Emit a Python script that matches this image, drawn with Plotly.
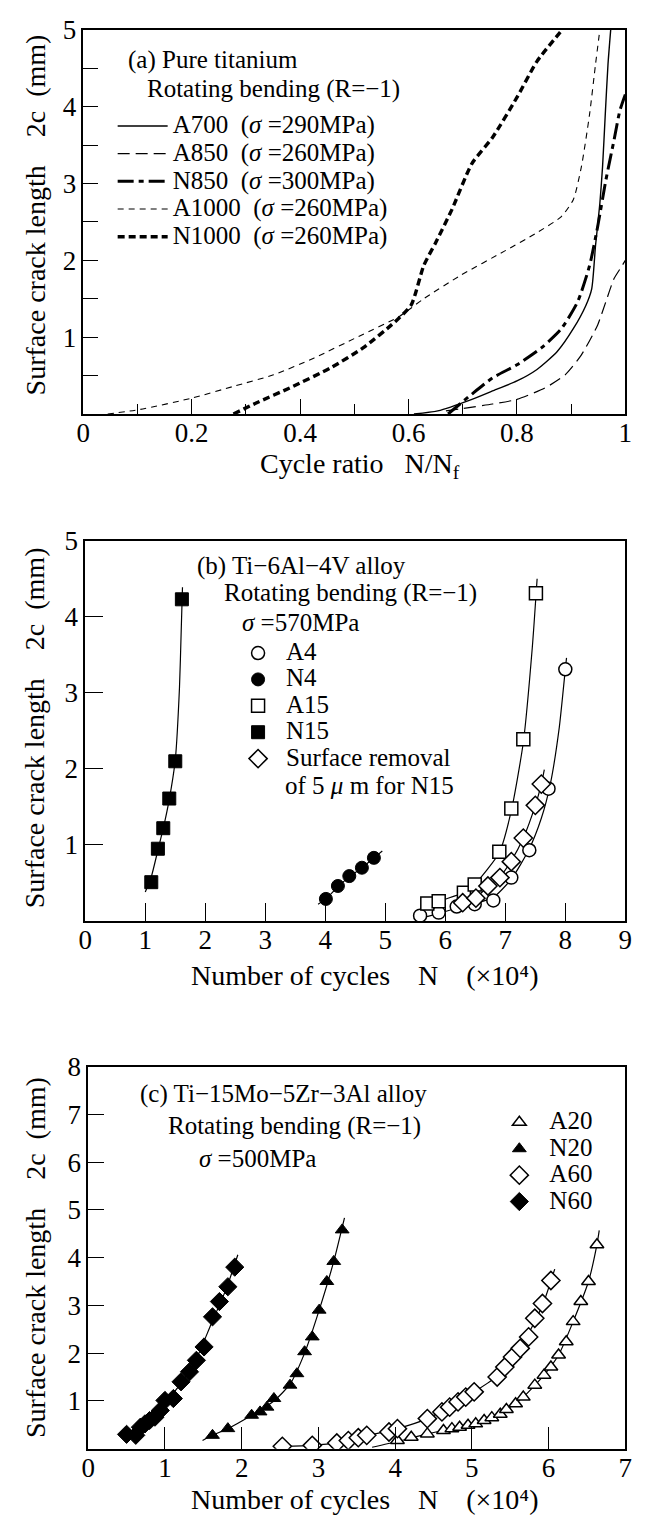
import plotly.graph_objects as go

FONT = "Liberation Serif"
W, H = 647, 1518

# ---------------- Panel (a): Pure titanium ----------------
a_A700_x = [0.61, 0.654, 0.717, 0.762, 0.80, 0.837, 0.874, 0.904, 0.927, 0.938, 0.945, 0.953, 0.958, 0.963, 0.968, 0.973]
a_A700_y = [0.0, 0.04, 0.19, 0.32, 0.43, 0.58, 0.81, 1.11, 1.41, 1.63, 2.19, 2.74, 3.22, 3.90, 4.55, 5.0]
a_A850_x = [0.669, 0.755, 0.80, 0.852, 0.889, 0.919, 0.949, 0.964, 0.979, 0.994, 1.0]
a_A850_y = [0.04, 0.13, 0.19, 0.34, 0.51, 0.77, 1.16, 1.46, 1.76, 1.93, 2.0]
a_N850_x = [0.673, 0.717, 0.755, 0.80, 0.845, 0.882, 0.912, 0.934, 0.949, 0.964, 0.979, 0.99, 1.0]
a_N850_y = [0.0, 0.26, 0.47, 0.64, 0.86, 1.11, 1.46, 1.93, 2.44, 3.04, 3.56, 3.95, 4.16]
a_A1000_x = [0.045, 0.105, 0.202, 0.277, 0.351, 0.426, 0.508, 0.583, 0.628, 0.695, 0.777, 0.837, 0.882, 0.904, 0.919, 0.934, 0.945, 0.953]
a_A1000_y = [0.0, 0.06, 0.21, 0.36, 0.51, 0.73, 1.01, 1.27, 1.50, 1.80, 2.12, 2.36, 2.57, 2.79, 3.22, 3.90, 4.55, 5.0]
a_N1000_x = [0.277, 0.321, 0.381, 0.456, 0.516, 0.575, 0.605, 0.628, 0.65, 0.68, 0.717, 0.755, 0.80, 0.837, 0.880]
a_N1000_y = [0.0, 0.15, 0.34, 0.60, 0.86, 1.20, 1.42, 1.93, 2.23, 2.66, 3.26, 3.60, 4.12, 4.59, 4.97]
a_names = ["A700  (<i>σ</i> =290MPa)", "A850  (<i>σ</i> =260MPa)", "N850  (<i>σ</i> =300MPa)",
           "A1000  (<i>σ</i> =260MPa)", "N1000  (<i>σ</i> =260MPa)"]
a_xticks = [0, 0.2, 0.4, 0.6, 0.8, 1]
a_xticktext = ["0", "0.2", "0.4", "0.6", "0.8", "1"]
a_yticks = [1, 2, 3, 4, 5]

# ---------------- Panel (b): Ti-6Al-4V ----------------
b_A4_x = [5.58, 5.89, 6.19, 6.49, 6.80, 7.10, 7.40, 7.72, 8.00]
b_A4_y = [0.07, 0.11, 0.19, 0.22, 0.27, 0.57, 0.93, 1.74, 3.31]
b_N4_x = [4.01, 4.21, 4.40, 4.61, 4.81]
b_N4_y = [0.29, 0.46, 0.59, 0.70, 0.83]
b_A15_x = [5.70, 5.89, 6.31, 6.49, 6.90, 7.10, 7.30, 7.51]
b_A15_y = [0.23, 0.26, 0.37, 0.48, 0.91, 1.48, 2.39, 4.31]
b_N15_x = [1.10, 1.21, 1.30, 1.40, 1.50, 1.61]
b_N15_y = [0.51, 0.95, 1.22, 1.61, 2.10, 4.23]
b_SR_x = [6.29, 6.51, 6.71, 6.91, 7.10, 7.30, 7.50, 7.60]
b_SR_y = [0.24, 0.30, 0.46, 0.57, 0.78, 1.09, 1.52, 1.80]
# fitted curves
b_A4_fit_x = [5.50, 5.80, 6.20, 6.50, 6.80, 7.10, 7.40, 7.60, 7.75, 7.90, 8.00, 8.02]
b_A4_fit_y = [0.02, 0.08, 0.17, 0.23, 0.31, 0.55, 0.95, 1.35, 1.80, 2.55, 3.31, 3.46]
b_N4_fit_x = [3.88, 4.01, 4.21, 4.40, 4.61, 4.81, 4.95]
b_N4_fit_y = [0.22, 0.29, 0.45, 0.58, 0.70, 0.83, 0.92]
b_A15_fit_x = [5.47, 5.70, 5.90, 6.30, 6.50, 6.90, 7.10, 7.30, 7.45, 7.53]
b_A15_fit_y = [0.07, 0.18, 0.26, 0.37, 0.49, 0.90, 1.45, 2.35, 3.60, 4.50]
b_N15_fit_x = [1.00, 1.10, 1.21, 1.30, 1.40, 1.50, 1.57, 1.60, 1.62]
b_N15_fit_y = [0.38, 0.58, 0.93, 1.22, 1.60, 2.12, 3.07, 3.85, 4.39]
b_SR_fit_x = [6.10, 6.29, 6.51, 6.71, 6.91, 7.10, 7.30, 7.50, 7.60, 7.65]
b_SR_fit_y = [0.17, 0.24, 0.31, 0.45, 0.58, 0.79, 1.09, 1.52, 1.80, 1.99]
b_names = ["A4", "N4", "A15", "N15", "Surface removal"]
b_name_cont = "of 5 <i>μ</i> m for N15"
b_xticks = [0, 1, 2, 3, 4, 5, 6, 7, 8, 9]
b_yticks = [1, 2, 3, 4, 5]

# ---------------- Panel (c): Ti-15Mo-5Zr-3Al ----------------
c_A20_x = [4.03, 4.21, 4.42, 4.63, 4.74, 4.84, 4.95, 5.05, 5.16, 5.26, 5.37, 5.45, 5.57, 5.67,
           5.82, 5.94, 6.03, 6.13, 6.23, 6.32, 6.42, 6.52, 6.63]
c_A20_y = [0.17, 0.24, 0.31, 0.38, 0.42, 0.45, 0.49, 0.52, 0.59, 0.65, 0.72, 0.82, 0.94, 1.08,
           1.33, 1.54, 1.71, 1.96, 2.24, 2.66, 3.08, 3.50, 4.27]
c_N20_x = [1.62, 1.82, 2.13, 2.24, 2.33, 2.42, 2.63, 2.72, 2.82, 2.92, 3.01, 3.11, 3.20, 3.31]
c_N20_y = [0.28, 0.42, 0.70, 0.77, 0.87, 1.05, 1.33, 1.57, 2.03, 2.34, 2.90, 3.50, 3.92, 4.58]
c_A60_x = [2.53, 2.92, 3.24, 3.39, 3.52, 3.63, 3.92, 4.03, 4.42, 4.61, 4.71, 4.82, 4.92, 5.03,
           5.33, 5.43, 5.53, 5.63, 5.74, 5.82, 5.92, 6.03]
c_A60_y = [0.05, 0.07, 0.12, 0.17, 0.23, 0.28, 0.35, 0.42, 0.63, 0.77, 0.87, 0.98, 1.08, 1.19,
           1.50, 1.71, 1.92, 2.10, 2.34, 2.73, 3.04, 3.52]
c_N60_x = [0.50, 0.62, 0.68, 0.74, 0.80, 0.87, 0.94, 1.00, 1.11, 1.21, 1.32, 1.41, 1.51, 1.62,
           1.71, 1.82, 1.91]
c_N60_y = [0.30, 0.28, 0.45, 0.52, 0.59, 0.66, 0.80, 1.01, 1.05, 1.40, 1.61, 1.85, 2.13, 2.76,
           3.08, 3.39, 3.80]
c_A20_fit_x = [3.70, 4.03, 4.42, 4.84, 5.16, 5.45, 5.67, 5.94, 6.13, 6.32, 6.52, 6.63, 6.66]
c_A20_fit_y = [0.03, 0.15, 0.31, 0.45, 0.59, 0.82, 1.08, 1.54, 1.96, 2.66, 3.50, 4.27, 4.57]
c_N20_fit_x = [1.49, 1.62, 1.82, 2.13, 2.42, 2.63, 2.82, 3.01, 3.20, 3.34]
c_N20_fit_y = [0.17, 0.28, 0.42, 0.70, 1.00, 1.35, 2.00, 2.90, 3.92, 4.83]
c_A60_fit_x = [2.53, 2.92, 3.24, 3.63, 4.03, 4.42, 4.82, 5.03, 5.33, 5.63, 5.92, 6.08]
c_A60_fit_y = [0.05, 0.07, 0.12, 0.27, 0.42, 0.63, 0.98, 1.19, 1.52, 2.10, 3.00, 3.76]
c_N60_fit_x = [0.48, 0.62, 0.80, 1.00, 1.20, 1.40, 1.60, 1.80, 1.95]
c_N60_fit_y = [0.28, 0.36, 0.60, 0.95, 1.35, 1.85, 2.60, 3.35, 4.06]
c_names = ["A20", "N20", "A60", "N60"]
c_xticks = [0, 1, 2, 3, 4, 5, 6, 7]
c_yticks = [1, 2, 3, 4, 5, 6, 7, 8]


def px(x):
    return x / W


def py(y):
    return 1 - y / H


def leg(name):
    return '<span style="font-size:25px">' + name + '</span>'


fig = go.Figure()

# Panel (a) lines
a_styles = [
    dict(width=1.4, dash="solid"),
    dict(width=1.2, dash="12px,6px"),
    dict(width=3.0, dash="16px,5px,5px,5px"),
    dict(width=1.1, dash="6px,5px"),
    dict(width=3.4, dash="7px,4px"),
]
a_series = [(a_A700_x, a_A700_y), (a_A850_x, a_A850_y), (a_N850_x, a_N850_y),
            (a_A1000_x, a_A1000_y), (a_N1000_x, a_N1000_y)]
for (xs, ys), nm, st in zip(a_series, a_names, a_styles):
    fig.add_trace(go.Scatter(x=xs, y=ys, mode="lines", name=leg(nm),
                             line=dict(color="black", shape="spline", smoothing=0.6, **st),
                             xaxis="x", yaxis="y", legend="legend"))

OPEN = dict(color="white", line=dict(color="black", width=1.5))
FILL = dict(color="black", line=dict(color="black", width=1))

# Panel (b) fitted lines
for fx, fy in [(b_A4_fit_x, b_A4_fit_y), (b_N4_fit_x, b_N4_fit_y), (b_A15_fit_x, b_A15_fit_y),
               (b_N15_fit_x, b_N15_fit_y), (b_SR_fit_x, b_SR_fit_y)]:
    fig.add_trace(go.Scatter(x=fx, y=fy, mode="lines", showlegend=False,
                             line=dict(color="black", width=1.2, shape="spline", smoothing=0.6),
                             xaxis="x2", yaxis="y2"))
b_series = [
    (b_A4_x, b_A4_y, "circle", 13, OPEN),
    (b_N4_x, b_N4_y, "circle", 13, FILL),
    (b_A15_x, b_A15_y, "square", 13, OPEN),
    (b_N15_x, b_N15_y, "square", 13, FILL),
    (b_SR_x, b_SR_y, "diamond", 14, OPEN),
]
for (xs, ys, sym, sz, sty), nm in zip(b_series, b_names):
    fig.add_trace(go.Scatter(x=xs, y=ys, mode="markers", name=leg(nm),
                             marker=dict(symbol=sym, size=sz, **sty),
                             xaxis="x2", yaxis="y2", legend="legend2"))

# Panel (c) fitted lines
for fx, fy in [(c_A20_fit_x, c_A20_fit_y), (c_N20_fit_x, c_N20_fit_y),
               (c_A60_fit_x, c_A60_fit_y), (c_N60_fit_x, c_N60_fit_y)]:
    fig.add_trace(go.Scatter(x=fx, y=fy, mode="lines", showlegend=False,
                             line=dict(color="black", width=1.2, shape="spline", smoothing=0.6),
                             xaxis="x3", yaxis="y3"))
c_series = [
    (c_A20_x, c_A20_y, "triangle-up", 12, OPEN),
    (c_N20_x, c_N20_y, "triangle-up", 12, FILL),
    (c_A60_x, c_A60_y, "diamond", 14, OPEN),
    (c_N60_x, c_N60_y, "diamond", 14, FILL),
]
for (xs, ys, sym, sz, sty), nm in zip(c_series, c_names):
    fig.add_trace(go.Scatter(x=xs, y=ys, mode="markers", name=leg(nm),
                             marker=dict(symbol=sym, size=sz, **sty),
                             xaxis="x3", yaxis="y3", legend="legend3"))

TICKFONT = dict(family=FONT, size=27, color="black")


def axis(domain, rng, anchor, tickvals, ticklen, ticktext=None, minor=None, standoff=0):
    d = dict(domain=domain, range=rng, anchor=anchor, showline=True, linecolor="black",
             linewidth=1.5, mirror=True, ticks="inside", tickcolor="black", tickwidth=1.2,
             ticklen=ticklen, showgrid=False, zeroline=False, tickfont=TICKFONT,
             tickmode="array", tickvals=tickvals, ticklabelstandoff=standoff)
    if ticktext is not None:
        d["ticktext"] = ticktext
    if minor is not None:
        d["minor"] = minor
    return d


fig.update_layout(
    width=W, height=H,
    margin=dict(l=0, r=0, t=0, b=0),
    paper_bgcolor="white", plot_bgcolor="white",
    font=dict(family=FONT, color="black"),
    xaxis=axis([px(78), px(632)], [0, 1], "y", a_xticks, 15, a_xticktext,
               minor=dict(dtick=0.1, tick0=0, ticklen=10, ticks="inside", tickcolor="black"),
               standoff=-6),
    yaxis=axis([py(403), py(15)], [0, 5], "x", a_yticks, 15,
               minor=dict(dtick=0.5, tick0=0, ticklen=15, ticks="inside", tickcolor="black")),
    xaxis2=axis([px(80), px(632)], [0, 9], "y2", b_xticks, 18, standoff=-6),
    yaxis2=axis([py(915), py(531)], [0, 5], "x2", b_yticks, 18),
    xaxis3=axis([px(83), px(632)], [0, 7], "y3", c_xticks, 22, standoff=-6),
    yaxis3=axis([py(1448), py(1062)], [0, 8], "x3", c_yticks, 16),
    legend=dict(x=px(108), y=py(93), xanchor="left", yanchor="top", itemwidth=50,
                bgcolor="rgba(0,0,0,0)", font=dict(family=FONT, size=19, color="black"),
                traceorder="normal"),
    legend2=dict(x=px(228), y=py(626), xanchor="left", yanchor="top", itemwidth=46,
                 bgcolor="rgba(0,0,0,0)", font=dict(family=FONT, size=18, color="black"),
                 traceorder="normal"),
    legend3=dict(x=px(493), y=py(1100), xanchor="left", yanchor="top", itemwidth=50,
                 bgcolor="rgba(0,0,0,0)", font=dict(family=FONT, size=18, color="black"),
                 traceorder="normal"),
)

ANN = dict(family=FONT, size=25, color="black")
TITLE = dict(family=FONT, size=28, color="black")
YT = "Surface crack length    2c  (mm)"
XT = "Number of cycles    N    (×10⁴)"
annotations = [
    # panel (a)
    dict(text="(a) Pure titanium", x=px(122), y=py(45), xanchor="left", font=ANN),
    dict(text="Rotating bending (R=−1)", x=px(141), y=py(75), xanchor="left", font=ANN),
    dict(text=YT, x=px(29), y=py(202), textangle=-90, font=TITLE),
    dict(text="Cycle ratio   N/N<sub>f</sub>", x=px(361), y=py(455), font=TITLE),
    # panel (b)
    dict(text="(b) Ti−6Al−4V alloy", x=px(192), y=py(557), xanchor="left", font=ANN),
    dict(text="Rotating bending (R=−1)", x=px(220), y=py(584), xanchor="left", font=ANN),
    dict(text="<i>σ</i> =570MPa", x=px(238), y=py(614), xanchor="left", font=ANN),
    dict(text=b_name_cont, x=px(282), y=py(778), xanchor="left", font=ANN),
    dict(text=YT, x=px(29), y=py(720), textangle=-90, font=TITLE),
    dict(text=XT, x=px(365), y=py(970), font=TITLE),
    # panel (c)
    dict(text="(c) Ti−15Mo−5Zr−3Al alloy", x=px(134), y=py(1090), xanchor="left", font=ANN),
    dict(text="Rotating bending (R=−1)", x=px(163), y=py(1122), xanchor="left", font=ANN),
    dict(text="<i>σ</i> =500MPa", x=px(194), y=py(1155), xanchor="left", font=ANN),
    dict(text=YT, x=px(29), y=py(1255), textangle=-90, font=TITLE),
    dict(text=XT, x=px(365), y=py(1499), font=TITLE),
]
for a in annotations:
    a.update(xref="paper", yref="paper", showarrow=False)
    a.setdefault("xanchor", "center")
    a.setdefault("yanchor", "middle")
fig.update_layout(annotations=annotations)

fig.write_html("out.html")
